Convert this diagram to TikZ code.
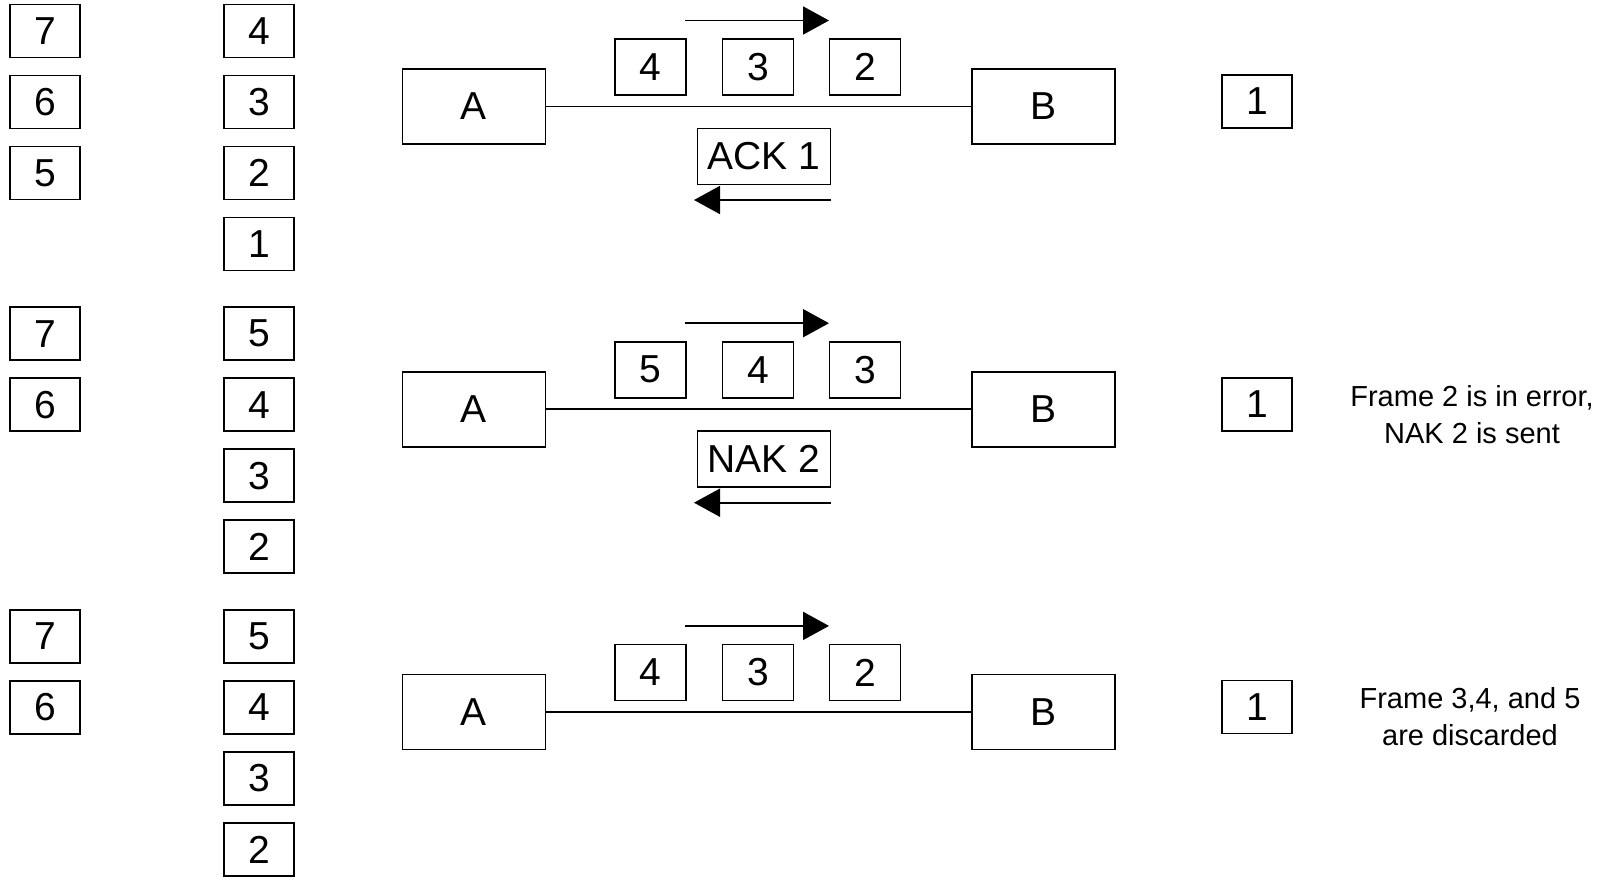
\documentclass[tikz,border=0pt]{standalone}
\usepackage{fontspec}
\setmainfont{Liberation Sans}
\usetikzlibrary{arrows.meta}
\begin{document}
\begin{tikzpicture}[x=1pt,y=-1pt,
  bx/.style={draw,line width=1.8pt,inner sep=0pt,font=\fontsize{39}{39}\selectfont},
  fr/.style={bx,minimum width=70pt,minimum height=53pt},
  tf/.style={bx,minimum width=71pt,minimum height=56pt},
  st/.style={bx,minimum width=143pt,minimum height=75pt},
  ak/.style={bx,minimum width=133pt,minimum height=56pt},
  link/.style={line width=1.8pt},
  flow/.style={line width=1.9pt,-{Triangle[length=26pt,width=28pt]}},
  note/.style={align=center,font=\fontsize{29}{37}\selectfont}
]
\useasboundingbox (0,0) rectangle (1609,879);
% ---------- section 1 ----------
\node[fr] (a1) at (45,31) {7};
\node[fr] (a2) at (45,102) {6};
\node[fr] (a3) at (45,173) {5};
\node[fr] (b1) at (259,31) {4};
\node[fr] (b2) at (259,102) {3};
\node[fr] (b3) at (259,173) {2};
\node[fr] (b4) at (259,244) {1};
\node[st] (A1) at (474,106.5) {A};
\node[st] (B1) at (1043.5,106.5) {B};
\draw[link] (A1) -- (B1);
\node[tf] (f11) at (650.5,67) {4};
\node[tf] (f12) at (758,67) {3};
\node[tf] (f13) at (865,67) {2};
\coordinate (u1s) at (685,20.5);
\coordinate (u1e) at (829,20.5);
\draw[flow] (u1s) -- (u1e);
\node[ak] (k1) at (764,156.5) {ACK 1};
\coordinate (d1s) at (831,200);
\coordinate (d1e) at (694,200);
\draw[flow] (d1s) -- (d1e);
\node[fr] (r1) at (1257,101.5) {1};
% ---------- section 2 ----------
\node[fr] (a21) at (45,333.7) {7};
\node[fr] (a22) at (45,404.7) {6};
\node[fr] (b21) at (259,333.7) {5};
\node[fr] (b22) at (259,404.7) {4};
\node[fr] (b23) at (259,475.7) {3};
\node[fr] (b24) at (259,546.7) {2};
\node[st] (A2) at (474,409.2) {A};
\node[st] (B2) at (1043.5,409.2) {B};
\draw[link] (A2) -- (B2);
\node[tf] (f21) at (650.5,369.7) {5};
\node[tf] (f22) at (758,369.7) {4};
\node[tf] (f23) at (865,369.7) {3};
\coordinate (u2s) at (685,323.2);
\coordinate (u2e) at (829,323.2);
\draw[flow] (u2s) -- (u2e);
\node[ak] (k2) at (764,459.2) {NAK 2};
\coordinate (d2s) at (831,502.7);
\coordinate (d2e) at (694,502.7);
\draw[flow] (d2s) -- (d2e);
\node[fr] (r2) at (1257,404.2) {1};
\node[note] (n2) at (1472,414.5) {Frame 2 is in error,\\NAK 2 is sent};
% ---------- section 3 ----------
\node[fr] (a31) at (45,636.4) {7};
\node[fr] (a32) at (45,707.4) {6};
\node[fr] (b31) at (259,636.4) {5};
\node[fr] (b32) at (259,707.4) {4};
\node[fr] (b33) at (259,778.4) {3};
\node[fr] (b34) at (259,849.4) {2};
\node[st] (A3) at (474,711.9) {A};
\node[st] (B3) at (1043.5,711.9) {B};
\draw[link] (A3) -- (B3);
\node[tf] (f31) at (650.5,672.4) {4};
\node[tf] (f32) at (758,672.4) {3};
\node[tf] (f33) at (865,672.4) {2};
\coordinate (u3s) at (685,625.9);
\coordinate (u3e) at (829,625.9);
\draw[flow] (u3s) -- (u3e);
\node[fr] (r3) at (1257,706.9) {1};
\node[note] (n3) at (1470,716.5) {Frame 3,4, and 5\\are discarded};
\end{tikzpicture}
\end{document}
